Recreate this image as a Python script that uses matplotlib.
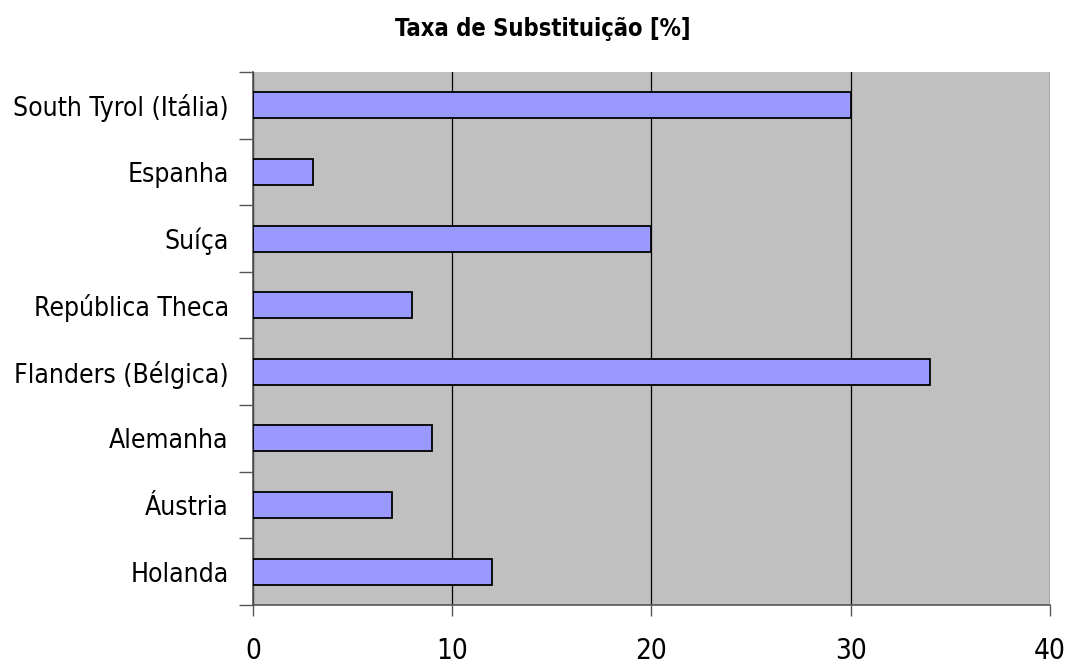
import matplotlib
matplotlib.use("Agg")
import matplotlib.pyplot as plt
import numpy as np

paises = ["South Tyrol (Itália)", "Espanha", "Suíça", "República Theca",
          "Flanders (Bélgica)", "Alemanha", "Áustria", "Holanda"]
taxa = [30, 3, 20, 8, 34, 9, 7, 12]
xticks = [0, 10, 20, 30, 40]

plt.rcParams['font.family'] = ['DejaVu Sans']
plt.rcParams['font.stretch'] = 'condensed'

fig = plt.figure(figsize=(10.75, 6.66), dpi=100)
ax = fig.add_axes([0.2353, 0.0916, 0.7414, 0.8003])
ax.set_facecolor('#c0c0c0')

y = np.arange(len(paises))[::-1]
ax.barh(y, taxa, height=0.39, color='#9999ff', edgecolor='black', linewidth=1.3, zorder=3)

ax.set_xlim(0, 40)
ax.set_ylim(-0.5, len(paises) - 0.5)
ax.set_xticks(xticks)
ax.set_xticklabels([str(v) for v in xticks], fontsize=20)
ax.grid(axis='x', color='black', linewidth=0.9, zorder=1)
ax.set_axisbelow(True)

# boundary ticks between categories, names centred on each bar
ax.set_yticks(np.arange(-0.5, len(paises), 1.0))
ax.set_yticklabels([])
ax.set_yticks(y, minor=True)
ax.set_yticklabels(paises, minor=True, fontsize=19)
ax.tick_params(axis='y', which='major', length=10, width=1, color='#555555', direction='out')
ax.tick_params(axis='y', which='minor', length=0, pad=17.5)
ax.tick_params(axis='x', length=8, width=1, color='#555555', direction='out', pad=15)

for s in ['top', 'right']:
    ax.spines[s].set_visible(False)
for s in ['left', 'bottom']:
    ax.spines[s].set_color('#555555')
    ax.spines[s].set_linewidth(1.2)

fig.text(0.505, 0.957, "Taxa de Substituição [%]", ha='center', va='center',
         fontsize=17, fontweight='bold')

fig.savefig("out.png", dpi=100)
